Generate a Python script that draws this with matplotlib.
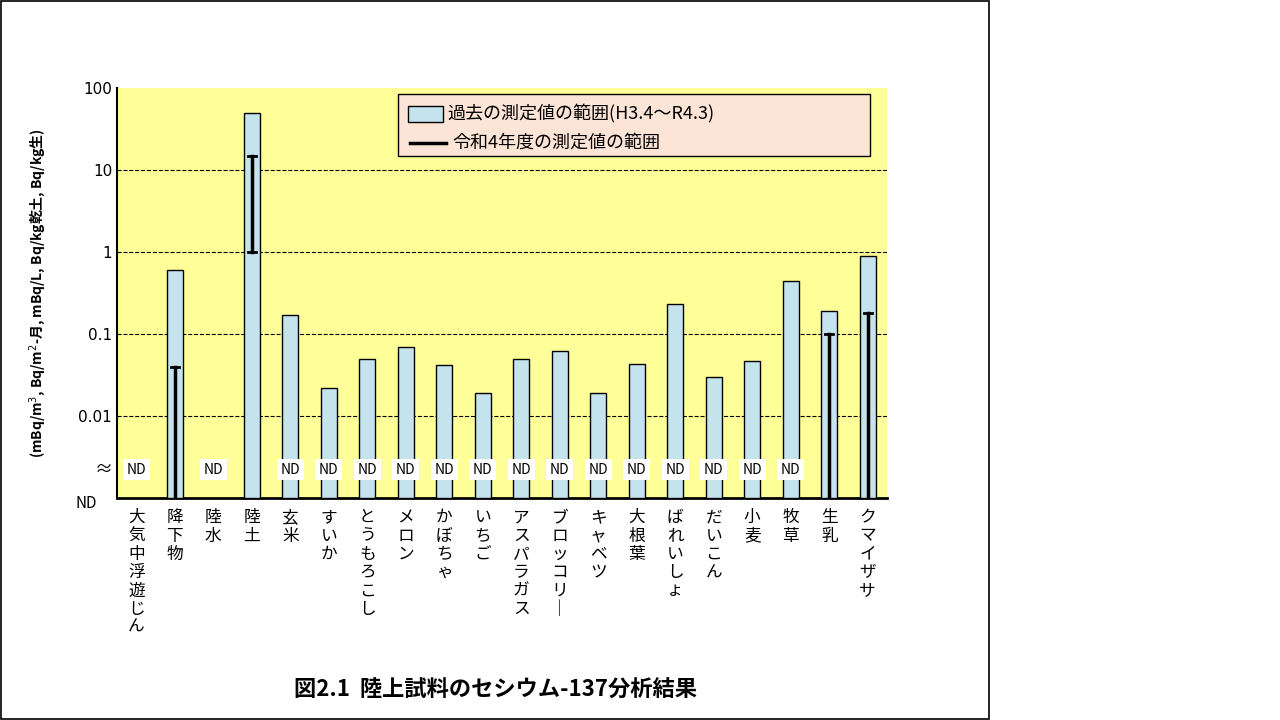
import numpy as np
import matplotlib.pyplot as plt
from matplotlib.patches import Rectangle
from matplotlib.lines import Line2D

plt.rcParams['font.family'] = ['Noto Sans CJK JP', 'DejaVu Sans']

categories = ['大気中浮遊じん', '降下物', '陸水', '陸土', '玄米', 'すいか', 'とうもろこし', 'メロン',
              'かぼちゃ', 'いちご', 'アスパラガス', 'ブロッコリー', 'キャベツ', '大根葉', 'ばれいしょ',
              'だいこん', '小麦', '牧草', '生乳', 'クマイザサ']
past_max = [None, 0.6, None, 50, 0.17, 0.022, 0.05, 0.07, 0.042, 0.019, 0.05, 0.062,
            0.019, 0.043, 0.23, 0.03, 0.047, 0.44, 0.19, 0.9]
# current year range (low, high); None for low means ND
cur_idx = [1, 3, 18, 19]
cur_low = [None, 1.0, None, None]
cur_high = [0.04, 15, 0.1, 0.18]
nd_idx = [0, 2, 4, 5, 6, 7, 8, 9, 10, 11, 12, 13, 14, 15, 16, 17]

BASE = 1e-3
fig = plt.figure(figsize=(12.8, 7.2), dpi=100)
fig.patches.append(Rectangle((0.001, 0.002), 988 / 1280, 0.996, transform=fig.transFigure,
                             fill=False, edgecolor='black', linewidth=1.2))
ax = fig.add_axes([117 / 1280, 222 / 720, 770 / 1280, 410 / 720])
ax.set_facecolor('#ffff99')
ax.set_yscale('log')
ax.set_ylim(BASE, 100)
ax.set_xlim(-0.5, len(categories) - 0.5)

x = np.arange(len(categories))
for i, v in enumerate(past_max):
    if v is not None:
        ax.bar(i, v - BASE, bottom=BASE, width=0.42, color='#c5e3ec', edgecolor='black',
               linewidth=1, zorder=3)
for i, lo, hi in zip(cur_idx, cur_low, cur_high):
    lo = BASE if lo is None else lo
    ax.plot([i, i], [lo, hi], color='black', linewidth=2.5, zorder=4)
    ax.plot([i - 0.1, i + 0.1], [hi, hi], color='black', linewidth=2, zorder=4)
    if lo > BASE:
        ax.plot([i - 0.1, i + 0.1], [lo, lo], color='black', linewidth=2, zorder=4)
for i in nd_idx:
    ax.text(i, 0.0022, 'ND', ha='center', va='center', fontsize=10, zorder=5,
            bbox=dict(facecolor='white', edgecolor='none', pad=2.5))

ax.set_yticks([0.01, 0.1, 1, 10, 100])
ax.set_yticklabels(['0.01', '0.1', '1', '10', '100'], fontsize=11, fontfamily='DejaVu Sans')
ax.minorticks_off()
ax.tick_params(axis='y', length=0)
ax.set_xticks([])
for yv in [0.01, 0.1, 1, 10]:
    ax.axhline(yv, color='black', linestyle='--', linewidth=0.8, zorder=1)
for s in ['top', 'right']:
    ax.spines[s].set_visible(False)
ax.spines['left'].set_linewidth(1.5)
ax.spines['bottom'].set_linewidth(2)
ax.text(-0.62, 0.0022, '≈', ha='right', va='center', fontsize=13, clip_on=False)
ax.text(-1.3, 0.00085, 'ND', ha='center', va='center', fontsize=11, clip_on=False)

for i, c in enumerate(categories):
    ax.text(i, 0.00073, '\n'.join(c.replace('ー', '｜')), ha='center', va='top', fontsize=12,
            linespacing=1.1, clip_on=False)

ax.set_ylabel('(mBq/m$^3$, Bq/m$^2$-月, mBq/L, Bq/kg乾土, Bq/kg生)', fontsize=10,
              fontweight='bold', labelpad=22)

# legend box
fig.patches.append(Rectangle((398 / 1280, 1 - 156 / 720), 472 / 1280, 62 / 720,
                             transform=fig.transFigure, facecolor='#fce4d6', edgecolor='black',
                             linewidth=1, zorder=6))
fig.patches.append(Rectangle((408 / 1280, 1 - 122 / 720), 35 / 1280, 16 / 720,
                             transform=fig.transFigure, facecolor='#c5e3ec', edgecolor='black',
                             linewidth=1, zorder=7))
fig.text(447 / 1280, 1 - 114 / 720, '過去の測定値の範囲(H3.4～R4.3)', fontsize=13, va='center', zorder=7)
fig.lines.append(Line2D([410 / 1280, 446 / 1280], [1 - 143 / 720, 1 - 143 / 720],
                        transform=fig.transFigure, color='black', linewidth=2.5, zorder=7))
fig.text(452 / 1280, 1 - 143 / 720, '令和4年度の測定値の範囲', fontsize=13, va='center', zorder=7)

fig.text(495 / 1280, 1 - 690 / 720, '図2.1  陸上試料のセシウム-137分析結果', fontsize=16,
         fontweight='bold', ha='center', va='center')

fig.savefig('out.png', dpi=100)
